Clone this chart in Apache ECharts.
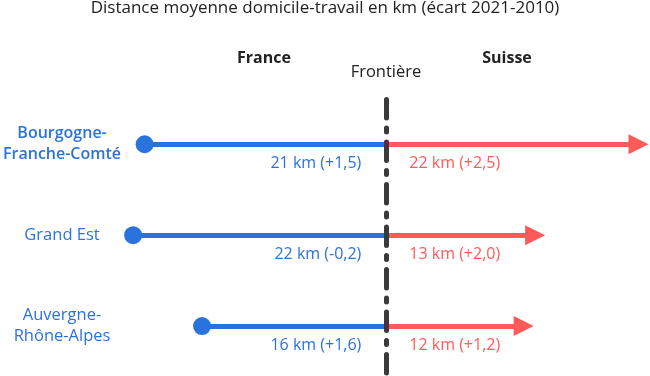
<!DOCTYPE html>
<html>
<head>
<meta charset="utf-8">
<script src="https://cdn.jsdelivr.net/npm/echarts@6/dist/echarts.min.js"></script>
<style>
  html, body { margin: 0; padding: 0; background: #fff; }
  #chart { width: 650px; height: 376px; }
</style>
</head>
<body>
<div id="chart"></div>
<script>
// données
var regions = ['Bourgogne-\nFranche-Comté', 'Grand Est', 'Auvergne-\nRhône-Alpes']
var franceKm = [21, 22, 16]
var franceEcart = ['+1,5', '-0,2', '+1,6']
var suisseKm = [22, 13, 12]
var suisseEcart = ['+2,5', '+2,0', '+1,2']

var blue = '#2a73dc'
var red = '#ff5a5a'
var font = '"Open Sans", "Noto Sans", sans-serif'

var chart = echarts.init(document.getElementById('chart'))

var blueLines = regions.map(function(r, i) {
  return { coords: [[-franceKm[i], i], [0, i]] }
})
var redLines = regions.map(function(r, i) {
  return { coords: [[0, i], [suisseKm[i], i]] }
})

var option = {
  animation: false,
  textStyle: { fontFamily: font },
  title: {
    text: 'Distance moyenne domicile-travail en km (écart 2021-2010)',
    left: 'center',
    top: 0,
    padding: 0,
    textStyle: { fontSize: 17, fontWeight: 'normal', color: '#222', fontFamily: font }
  },
  graphic: [
    { type: 'text', x: 264, y: 58, style: { text: 'France', align: 'center', verticalAlign: 'middle', font: 'bold 16px ' + font, fill: '#222' } },
    { type: 'text', x: 507, y: 58, style: { text: 'Suisse', align: 'center', verticalAlign: 'middle', font: 'bold 16px ' + font, fill: '#222' } },
    { type: 'text', x: 386, y: 72, style: { text: 'Frontière', align: 'center', verticalAlign: 'middle', font: '16.5px ' + font, fill: '#222' } }
  ],
  grid: { left: 0, right: 0, top: 97, bottom: 0 },
  xAxis: {
    type: 'value',
    min: -33.5,
    max: 23,
    show: false
  },
  yAxis: {
    type: 'value',
    inverse: true,
    min: -0.52,
    max: 2.55,
    splitLine: { show: false },
    axisLine: { show: false },
    axisTick: { show: false },
    axisLabel: {
      inside: true,
      align: 'center',
      margin: 61,
      customValues: [0, 1, 2],
      formatter: function(v) {
        var name = regions[Math.round(v)]
        return v === 0 ? '{b|' + name.split('\n').join('}\n{b|') + '}' : name
      },
      color: blue,
      fontSize: 16.5,
      lineHeight: 21,
      fontFamily: font,
      rich: {
        b: { fontWeight: 600, fontSize: 16, lineHeight: 21, color: blue, fontFamily: font }
      }
    }
  },
  series: [
    {
      type: 'lines',
      coordinateSystem: 'cartesian2d',
      symbol: ['circle', 'none'],
      symbolSize: [18, 0],
      lineStyle: { color: blue, width: 5, opacity: 1, curveness: 0 },
      itemStyle: { color: blue },
      data: blueLines,
      z: 2
    },
    {
      type: 'lines',
      coordinateSystem: 'cartesian2d',
      symbol: ['none', 'triangle'],
      symbolSize: [0, 20],
      lineStyle: { color: red, width: 5, opacity: 1, curveness: 0 },
      itemStyle: { color: red },
      data: redLines,
      z: 2
    },
    {
      // étiquettes France
      type: 'scatter',
      symbolSize: 1,
      itemStyle: { color: 'rgba(0,0,0,0)', opacity: 1 },
      data: franceKm.map(function(v, i) { return [0, i] }),
      label: {
        show: true,
        position: 'left',
        distance: 24,
        offset: [0, 19],
        fontSize: 16,
        color: blue,
        fontFamily: font,
        formatter: function(p) {
          return franceKm[p.dataIndex] + ' km (' + franceEcart[p.dataIndex] + ')'
        }
      },
      z: 3
    },
    {
      // étiquettes Suisse
      type: 'scatter',
      symbolSize: 1,
      itemStyle: { color: 'rgba(0,0,0,0)', opacity: 1 },
      data: suisseKm.map(function(v, i) { return [0, i] }),
      label: {
        show: true,
        position: 'right',
        distance: 23,
        offset: [0, 19],
        fontSize: 16,
        color: red,
        fontFamily: font,
        formatter: function(p) {
          return suisseKm[p.dataIndex] + ' km (' + suisseEcart[p.dataIndex] + ')'
        }
      },
      z: 3
    },
    {
      // frontière
      type: 'line',
      data: [],
      markLine: {
        silent: true,
        symbol: 'none',
        label: { show: false },
        lineStyle: { color: '#3a3a3a', width: 5, type: [18.5, 10, 4, 10], dashOffset: -2.5, cap: 'round' },
        data: [{ xAxis: 0 }]
      },
      z: 5
    }
  ]
}

chart.setOption(option)
window.addEventListener('resize', function() {
  chart.resize()
})
</script>
</body>
</html>
